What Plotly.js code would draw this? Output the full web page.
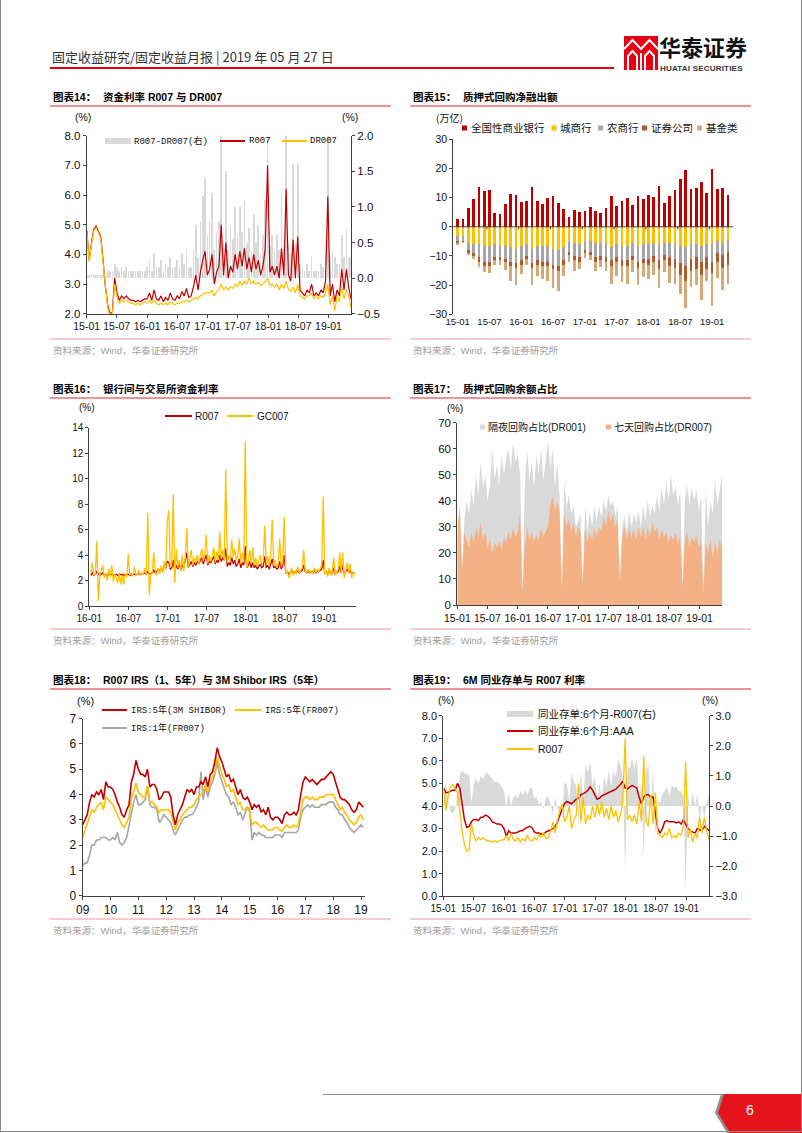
<!DOCTYPE html>
<html><head><meta charset="utf-8">
<script src="https://cdn.plot.ly/plotly-3.0.1.min.js"></script>
<style>
html,body{margin:0;padding:0;background:#fff;}
#page{position:relative;width:802px;height:1133px;overflow:hidden;background:#fff;}
#chart{position:absolute;left:0;top:0;width:802px;height:1133px;}
.ov{position:absolute;pointer-events:none;}
.logo1{position:absolute;left:659px;top:30px;line-height:normal;font-family:"Noto Sans CJK SC",sans-serif;font-weight:bold;font-size:22px;color:#111;white-space:nowrap;}
.logo2{position:absolute;left:660px;top:63.5px;line-height:normal;font-family:Arial,"Liberation Sans",sans-serif;font-weight:bold;font-size:8px;color:#333;white-space:nowrap;letter-spacing:0.2px;}
</style></head><body>
<div id="page">
<div id="chart"></div>
<svg class="ov" style="left:624px;top:36px" width="34" height="34" viewBox="0 0 34 34">
  <rect x="0" y="0" width="34" height="34" fill="#e60012"/>
  <polyline points="0,13 8.5,4 17,13 25.5,4 34,13" fill="none" stroke="#fff" stroke-width="2.2"/>
  <polyline points="4,34 4,20 8.5,15 13,20 13,34" fill="none" stroke="#fff" stroke-width="2"/>
  <polyline points="21,34 21,20 25.5,15 30,20 30,34" fill="none" stroke="#fff" stroke-width="2"/>
  <line x1="17" y1="17" x2="17" y2="34" stroke="#fff" stroke-width="2"/>
</svg>
<div class="logo1">华泰证券</div>
<div class="logo2">HUATAI SECURITIES</div>
<div class="ov" style="left:323px;top:1093.5px;width:400px;height:1.5px;background:#8a8a8a"></div>
<svg class="ov" style="left:708px;top:1092px" width="94" height="41">
  <polygon points="13,2 94,2 94,41 19,41 7,21" fill="#8f8f8f"/>
  <polygon points="16,2 94,2 94,41 22,41 10,21" fill="#e5141b"/>
  <text x="42" y="23" fill="#fff" font-family="Arial" font-size="14" text-anchor="middle">6</text>
</svg>
<div class="ov" style="left:0;top:0;width:800px;height:1131px;border-left:1px solid #8a8a8a;border-right:1px solid #8a8a8a;border-bottom:1px solid #8a8a8a"></div>
</div>
<script>
// ---------------- DATA ----------------
// Chart 14 / 19: R007 and DR007, biweekly samples from 2015-01-02
const r007 = [
4.8,3.8,4.4,4.85,4.95,4.8,4.6,3.8,2.9,2.3,2.0,2.05,3.2,2.7,2.45,2.6,2.5,2.6,2.5,2.45,2.45,2.4,2.45,2.4,2.45,2.5,
2.5,2.7,2.45,2.8,2.5,2.45,2.6,2.4,2.55,2.45,2.7,2.5,2.45,2.6,2.5,2.75,2.6,2.85,2.55,2.6,2.9,3.3,2.8,3.4,3.8,4.1,
3.3,3.5,4.0,3.0,3.4,3.6,5.0,3.3,4.4,3.2,3.6,3.4,4.0,3.5,4.1,3.6,4.2,3.5,3.9,3.4,4.0,3.5,3.8,3.3,3.6,4.2,
7.0,3.4,3.6,3.3,3.6,3.2,4.2,3.3,6.2,3.3,3.1,4.5,3.2,4.6,2.8,2.7,2.6,2.8,2.7,3.0,2.6,2.7,2.6,2.8,2.7,3.1,
5.95,2.6,3.0,2.4,2.8,2.6,3.5,2.8,3.5,2.9,2.5];
const dr007 = [
4.75,3.75,4.35,4.8,4.9,4.75,4.55,3.75,2.85,2.2,1.9,1.95,3.0,2.55,2.35,2.45,2.4,2.45,2.4,2.35,2.35,2.3,2.35,2.3,2.35,2.4,
2.35,2.45,2.35,2.45,2.35,2.3,2.35,2.3,2.35,2.3,2.4,2.35,2.3,2.35,2.35,2.4,2.4,2.45,2.4,2.45,2.5,2.55,2.5,2.6,2.65,2.7,
2.7,2.7,2.8,2.6,2.75,2.8,3.0,2.8,2.9,2.8,2.9,2.85,3.0,2.9,3.1,2.95,3.1,3.0,3.2,3.0,3.1,3.0,3.05,2.95,3.0,3.1,
3.2,2.95,3.0,2.9,3.0,2.8,3.0,2.85,3.1,2.8,2.75,2.9,2.7,3.0,2.6,2.55,2.5,2.6,2.6,2.7,2.5,2.6,2.5,2.6,2.55,2.7,
3.0,2.3,2.6,2.1,2.6,2.4,2.9,2.5,2.8,2.6,2.2];

// Chart 15: monthly net lending (trillion), 2015-01 .. 2019-04
const bankNational = [2.7,2.6,6.3,9.6,13.7,12.3,12.5,4.7,4.3,7.9,11.4,11.0,8.4,8.9,13.6,8.7,7.9,9.8,10.6,8.1,6.0,3.4,5.9,5.2,5.5,6.7,5.5,4.9,6.6,10.5,7.2,8.9,10.0,7.6,10.4,9.5,11.0,10.2,14.0,8.2,10.6,12.5,16.3,19.4,13.0,13.3,15.4,11.5,19.7,12.8,13.4,10.9];
const bankCity = [-3.0,-3.0,-5.5,-6.0,-6.0,-6.5,-6.5,-6.0,-6.5,-6.5,-7.0,-7.5,-6.5,-6.0,-7.5,-6.5,-6.5,-6.5,-7.5,-8.0,-7.0,-5.0,-5.5,-6.0,-5.0,-5.0,-5.5,-5.5,-5.5,-7.0,-6.0,-6.5,-6.5,-5.5,-6.5,-6.0,-6.0,-5.5,-6.0,-5.5,-5.5,-6.0,-6.5,-7.0,-6.0,-6.0,-6.5,-6.0,-6.0,-5.0,-5.5,-4.5];
const bankRural = [-2.0,-1.8,-2.5,-3.0,-4.5,-5.5,-5.5,-4.5,-4.0,-4.5,-5.0,-5.0,-5.0,-4.0,-5.0,-5.0,-5.5,-5.5,-5.5,-5.5,-4.5,-3.5,-4.5,-4.5,-3.0,-3.5,-5.0,-4.5,-5.0,-4.5,-4.5,-5.0,-5.0,-4.5,-5.5,-5.0,-5.0,-4.5,-5.5,-4.0,-5.0,-5.0,-6.0,-6.5,-5.0,-4.5,-5.5,-4.5,-6.0,-4.0,-4.0,-4.0];
const securities = [-0.5,-0.4,-1.0,-1.0,-1.5,-1.5,-1.5,-1.0,-1.0,-1.0,-1.5,-1.5,-1.5,-1.0,-1.5,-1.5,-1.5,-1.5,-1.5,-1.5,-1.5,-1.0,-1.5,-1.5,-1.0,-1.0,-1.5,-1.5,-1.5,-2.0,-1.5,-2.0,-2.0,-1.5,-2.0,-1.5,-2.0,-2.0,-3.0,-2.0,-3.0,-3.0,-4.0,-5.0,-4.0,-4.0,-4.5,-4.0,-4.0,-3.0,-4.5,-4.5];
const funds = [-0.8,-0.5,-0.8,-0.9,-1.9,-2.0,-2.4,-1.5,-1.7,-2.7,-5.2,-6.0,-3.1,-2.2,-5.9,-4.0,-4.5,-5.0,-6.5,-7.0,-4.0,-2.6,-3.8,-2.4,-1.7,-2.0,-3.3,-2.4,-3.3,-6.2,-4.8,-5.5,-6.2,-4.0,-6.1,-4.7,-4.8,-4.4,-6.5,-4.0,-5.8,-5.7,-6.6,-9.4,-5.5,-5.4,-8.7,-4.2,-11.0,-5.6,-7.8,-6.5];

// Chart 16: weekly samples from 2016-01-08
const gc007 = [
2.6,3.4,2.4,2.5,5.1,0.4,2.4,2.8,3.2,2.2, 2.6,2.0,2.9,2.3,3.2,1.9,2.5,2.2,1.8,2.6,
1.7,2.4,1.7,2.5,2.3,4.1,2.4,2.6,2.3,3.1, 2.5,2.4,2.8,2.4,2.6,2.5,3.0,2.4,7.3,0.9,
2.5,2.6,4.2,2.8,2.4,3.0,2.5,3.2,2.6,3.5, 2.8,6.7,7.5,3.0,3.3,8.8,1.8,4.5,3.0,3.6,
2.8,4.0,2.7,3.8,6.1,3.0,3.6,4.4,3.2,3.8, 3.4,4.0,3.3,3.9,4.5,3.5,4.2,5.6,3.3,4.0,
3.5,3.9,4.6,3.4,4.3,3.6,5.8,3.7,4.4,3.6, 10.7,3.4,4.0,3.5,5.2,3.8,4.5,3.6,3.9,5.3,
3.3,4.2,3.5,12.9,3.0,3.5,4.4,3.3,4.6,3.2, 3.8,3.1,3.6,4.0,3.2,3.5,6.3,3.3,3.9,3.1,
4.2,6.8,3.2,3.6,3.0,3.4,5.3,3.1,3.5,7.0, 2.5,2.8,2.2,2.6,3.0,2.4,2.7,2.5,3.1,2.6,
2.8,3.0,4.4,2.7,2.6,2.9,2.6,2.8,2.5,3.0, 2.6,2.9,2.7,3.0,3.2,8.6,2.5,2.8,2.3,3.0,
2.4,2.7,3.8,2.4,2.6,2.9,4.2,2.5,4.2,2.2, 2.8,3.4,2.6,3.3,2.2,2.7,2.5];
const r007Weekly = [
2.4,2.6,2.4,2.5,2.7,2.5,2.4,2.5,2.6,2.4, 2.5,2.4,2.5,2.45,2.5,2.4,2.45,2.5,2.4,2.5,
2.45,2.5,2.4,2.5,2.45,2.5,2.4,2.45,2.5,2.5, 2.45,2.5,2.55,2.45,2.5,2.55,2.6,2.5,2.7,2.5,
2.55,2.6,2.8,2.6,2.7,2.9,2.7,3.0,2.8,3.2, 3.0,3.5,3.4,2.9,3.0,3.6,2.8,3.2,2.9,3.3,
2.8,3.2,3.0,3.6,4.2,3.0,3.3,3.5,3.1,3.4, 3.2,3.5,3.3,3.6,3.8,3.3,3.6,4.0,3.2,3.5,
3.4,3.6,3.9,3.3,3.6,3.4,4.0,3.5,3.8,3.6, 4.5,3.1,3.4,3.2,3.8,3.3,3.6,3.1,3.3,3.7,
3.0,3.4,3.2,4.7,3.0,3.2,3.5,3.0,3.4,3.0, 3.2,2.9,3.1,3.3,3.0,3.1,3.9,3.0,3.2,2.9,
3.3,3.7,3.0,3.1,2.9,3.0,3.5,2.9,3.2,4.0, 2.6,2.7,2.5,2.6,2.8,2.6,2.7,2.6,2.8,2.6,
2.7,2.8,3.2,2.7,2.6,2.7,2.6,2.7,2.6,2.8, 2.6,2.7,2.7,2.8,2.9,3.6,2.6,2.7,2.5,2.8,
2.5,2.6,3.0,2.5,2.6,2.7,3.1,2.6,3.2,2.5, 2.7,2.9,2.6,2.8,2.5,2.6,2.6];

// Chart 17: share of repo balance (%), biweekly from 2015-01-02
const shareDR001 = [
30,36,15,33,40,35,44,38,50,42, 55,45,50,40,46,60,48,54,46,57,
50,56,60,52,62,55,58,50,5,45, 60,48,55,45,58,50,60,48,55,63,
52,60,45,55,42,5,48,38,42,35, 38,30,32,35,8,38,28,36,30,38,
32,38,34,40,36,42,38,40,34,38, 10,30,34,28,36,30,35,32,36,30,
38,32,40,34,38,35,42,36,45,38, 48,40,50,42,46,38,44,8,40,46,
38,45,40,44,36,42,5,44,30,40, 35,48,38,45,50];
const shareDR007 = [
30,38,12,28,25,22,28,24,30,26, 32,25,28,22,25,20,24,22,25,21,
26,24,28,25,30,26,28,35,5,22, 30,25,28,24,27,25,30,26,28,30,
38,42,36,40,35,5,35,30,33,28, 32,26,30,28,8,30,24,28,25,30,
26,30,28,34,30,36,32,35,30,33, 8,26,30,25,30,26,29,25,30,26,
30,25,30,26,32,28,30,25,29,26, 28,24,27,25,28,24,26,6,24,28,
22,26,24,27,22,25,4,24,20,25, 18,24,20,25,22];

// Chart 18: monthly IRS, 2009-01 .. 2019-02
const irs5Shibor = [
2.8,3.0,3.2,3.7,4.0,3.9,4.1,4.0,4.2,3.8,4.5,4.3,
4.3,4.2,4.0,3.7,3.5,3.2,3.1,3.4,3.6,4.5,4.8,5.35,
5.0,4.8,4.8,4.7,5.0,4.3,4.4,4.4,4.2,3.8,3.9,4.1,
4.1,4.1,3.9,3.2,2.8,3.2,3.4,3.6,3.9,4.2,4.1,4.2,
4.0,4.3,4.3,4.5,4.4,4.7,4.3,4.8,4.9,5.3,5.85,5.5,
5.3,5.0,4.7,4.8,4.5,4.6,4.3,4.0,4.2,3.9,3.8,3.9,
3.7,3.4,3.6,3.5,3.6,3.3,3.4,3.2,3.5,3.1,3.0,3.1,
3.1,3.0,2.85,3.2,3.3,3.2,3.2,3.3,3.2,3.4,4.0,4.5,
4.7,4.6,4.5,4.6,4.5,4.4,4.5,4.6,4.6,4.7,4.8,4.9,
4.8,4.5,4.2,3.9,3.8,3.8,3.7,3.6,3.4,3.3,3.4,3.7,
3.6,3.5];
const irs5FR007 = [
2.3,2.6,2.9,3.2,3.4,3.3,3.5,3.6,3.7,3.4,3.9,3.8,
3.7,3.6,3.4,3.2,3.0,2.8,2.7,2.9,3.1,3.8,4.1,4.45,
4.1,4.0,3.9,3.9,4.35,3.7,3.7,3.6,3.5,3.3,3.4,3.4,
3.4,3.4,3.3,2.9,2.6,2.9,3.0,3.2,3.3,3.4,3.5,3.5,
3.6,3.8,3.9,4.0,4.1,4.4,4.1,4.5,4.7,4.9,5.5,5.1,
4.8,4.6,4.3,4.4,4.1,4.2,3.9,3.6,3.7,3.4,3.4,3.5,
3.3,2.8,2.9,2.9,2.8,2.7,2.8,2.7,2.6,2.6,2.6,2.7,
2.7,2.6,2.55,2.7,2.8,2.7,2.7,2.8,2.7,2.8,3.4,3.8,
3.9,3.9,3.8,3.9,3.8,3.8,3.9,3.9,3.9,4.0,4.0,4.0,
4.0,3.8,3.6,3.4,3.5,3.3,3.2,3.0,2.9,2.8,2.9,3.1,
3.2,3.0];
const irs1FR007 = [
1.2,1.3,1.3,1.6,2.0,2.0,2.2,2.2,2.3,2.3,2.3,2.2,
2.2,2.3,2.2,2.5,2.1,2.0,2.1,2.3,2.8,3.3,3.7,4.0,
3.6,3.6,3.7,3.8,4.3,3.6,3.5,3.5,3.4,2.9,3.0,3.2,
3.1,3.0,2.9,2.6,2.4,2.6,2.8,3.0,3.1,3.1,3.2,3.2,
3.3,3.5,3.7,4.9,3.8,4.3,3.9,4.3,4.5,4.8,5.3,4.8,
4.5,4.2,4.0,3.9,3.6,3.7,3.5,3.2,3.3,3.0,3.3,3.5,
3.4,2.2,2.5,2.4,2.5,2.4,2.4,2.3,2.3,2.3,2.3,2.4,
2.4,2.4,2.3,2.5,2.5,2.5,2.5,2.5,2.5,2.6,3.1,3.4,
3.5,3.6,3.5,3.6,3.5,3.5,3.5,3.6,3.6,3.6,3.7,3.7,
3.7,3.5,3.4,3.2,3.2,3.0,2.9,2.7,2.6,2.5,2.6,2.7,
2.8,2.7];

// Chart 19: 6M NCD AAA, biweekly from 2015-01-02
const ncd6mAAA = [
4.8,4.6,4.6,4.65,4.7,4.7,5.0,4.8,4.1,3.4, 3.05,3.1,3.3,3.4,3.4,3.35,3.5,3.5,3.6,3.55,
3.45,3.3,3.25,3.2,3.2,3.15,3.0,2.65,2.9,2.8, 2.8,2.8,2.85,2.9,2.9,3.0,3.05,3.1,3.05,2.85,
2.8,2.8,2.75,2.75,2.85,2.9,2.95,3.0,3.1,3.3, 3.6,3.9,4.1,4.2,4.15,4.1,4.2,4.3,4.35,4.5,
4.55,4.6,4.7,4.85,4.7,4.5,4.3,4.35,4.45,4.5, 4.55,4.6,4.65,4.7,4.75,4.85,4.95,5.1,4.8,4.75,
4.85,4.9,4.85,4.8,4.4,4.1,4.4,4.5,4.5,4.4, 4.4,3.6,3.0,2.8,3.0,3.3,3.35,3.3,3.3,3.3,
3.25,3.3,3.2,3.4,3.2,3.0,2.9,2.85,2.8,3.0, 2.95,2.9,3.1,3.0,2.9];

// Tick labels
const halfYearTicks = ['2015-01-01','2015-07-01','2016-01-01','2016-07-01','2017-01-01','2017-07-01','2018-01-01','2018-07-01','2019-01-01'];
const halfYearLabels = ['15-01','15-07','16-01','16-07','17-01','17-07','18-01','18-07','19-01'];
const yearTicks = ['2009-01-01','2010-01-01','2011-01-01','2012-01-01','2013-01-01','2014-01-01','2015-01-01','2016-01-01','2017-01-01','2018-01-01','2019-01-01'];
const yearLabels = ['09','10','11','12','13','14','15','16','17','18','19'];

// ---------------- HELPERS ----------------
const W = 802, H = 1133;
const px = x => x / W;
const py = y => 1 - y / H;
function dateGrid(start, n, stepDays) {
  const p = start.split('-').map(Number);
  const t0 = Date.UTC(p[0], p[1] - 1, p[2]);
  const out = [];
  for (let i = 0; i < n; i++) out.push(new Date(t0 + i * stepDays * 86400000).toISOString().slice(0, 10));
  return out;
}
function monthGrid(y0, m0, n) {
  const out = [];
  for (let i = 0; i < n; i++) out.push(new Date(Date.UTC(y0, m0 - 1 + i, 1)).toISOString().slice(0, 10));
  return out;
}
const biweek = dateGrid('2015-01-02', r007.length, 14);
const weekly16 = dateGrid('2016-01-08', gc007.length, 7);
const months18 = monthGrid(2009, 1, irs5Shibor.length);
const spread14 = r007.map((v, i) => +(v - dr007[i]).toFixed(2));
const spread19 = ncd6mAAA.map((v, i) => +(v - r007[i]).toFixed(2));
const idx15 = bankNational.map((_, i) => i);
const labels15 = idx15.map(i => (15 + Math.floor(i / 12)) + '-' + String(i % 12 + 1).padStart(2, '0'));
const tv15 = idx15.filter(i => i % 6 === 0);
const tt15 = tv15.map(i => labels15[i]);

const SANS = 'Arial, "Liberation Sans", "Noto Sans CJK SC", sans-serif';
const MONO = '"Liberation Mono", "Noto Sans CJK SC", monospace';
const CJK = '"Noto Sans CJK SC", Arial, sans-serif';
const RED = '#c00000', YEL = '#ffc000', LGRAY = '#d9d9d9', MGRAY = '#a6a6a6';

const annotations = [];
const shapes = [];
function T(x, y, text, size, opt) {
  opt = opt || {};
  annotations.push({xref: 'paper', yref: 'paper', x: px(x), y: py(y), text: text, showarrow: false,
    xanchor: opt.anchor || 'left', yanchor: 'middle', borderpad: 0,
    font: {family: opt.family || SANS, size: size, color: opt.color || '#111'}});
}
function L(x0, y0, x1, y1, color, width) {
  shapes.push({type: 'line', xref: 'paper', yref: 'paper', x0: px(x0), y0: py(y0), x1: px(x1), y1: py(y1), line: {color: color, width: width}});
}
function R(x0, y0, x1, y1, color) {
  shapes.push({type: 'rect', xref: 'paper', yref: 'paper', x0: px(x0), y0: py(y0), x1: px(x1), y1: py(y1), fillcolor: color, line: {width: 0}});
}

// Header
T(51, 57, '固定收益研究/固定收益月报 | 2019 年 05 月 27 日', 13, {color: '#333', family: CJK});
L(50, 68, 614, 68, '#e60012', 2);

// Chart frames: titles, rules, sources
function frame(x, yTitle, num, title, yRule, ySrc) {
  T(x + 2, yTitle, '<b>图表' + num + '：</b>', 10.5, {color: '#000', family: SANS});
  T(x + 52, yTitle, '<b>' + title + '</b>', 10.5, {color: '#000', family: SANS});
  L(x, yTitle + 9, x + 341, yTitle + 9, '#e0262c', 1.2);
  L(x, yRule, x + 341, yRule, '#ef9a9a', 1);
  T(x + 2, ySrc, '资料来源：Wind，华泰证券研究所', 9.5, {color: '#a0a0a0', family: SANS});
}
frame(50, 97, '14', '资金利率 R007 与 DR007', 339, 350);
frame(410, 97, '15', '质押式回购净融出额', 339, 350);
frame(50, 389, '16', '银行间与交易所资金利率', 629, 640);
frame(410, 389, '17', '质押式回购余额占比', 629, 640);
frame(50, 680, '18', 'R007 IRS（1、5年）与 3M Shibor IRS（5年）', 919, 930);
frame(410, 680, '19', '6M 同业存单与 R007 利率', 919, 930);

// Chart 14 legend / units
T(83, 117, '(%)', 10.5, {anchor: 'center'});
T(350, 117, '(%)', 10.5, {anchor: 'center'});
R(105, 138, 131, 144, LGRAY); T(133, 141, 'R007-DR007(右)', 9, {family: MONO});
L(220, 141, 245, 141, RED, 2); T(248, 141, 'R007', 9, {family: MONO});
L(282, 141, 307, 141, YEL, 2); T(309, 141, 'DR007', 9, {family: MONO});

// Chart 15 legend / units
T(435, 117, '(万亿)', 10, {family: CJK});
const leg15 = [[462, RED, '全国性商业银行'], [551.5, YEL, '城商行'], [598, MGRAY, '农商行'], [642, '#b4582a', '证券公司'], [697, '#d4aa78', '基金类']];
leg15.forEach(function (d) { R(d[0], 125.5, d[0] + 5, 130.5, d[1]); T(d[0] + 7.5, 128, d[2], 10.5, {family: CJK}); });
[5.5, 11.5, 17.5, 23.5, 29.5, 35.5, 41.5, 47.5].forEach(function (v) {
  shapes.push({type: 'line', xref: 'x2', yref: 'y3', x0: v, x1: v, y0: 0, y1: -0.9, line: {color: '#404040', width: 1}});
});
shapes.push({type: 'line', xref: 'paper', yref: 'y3', x0: px(453.3), x1: px(733), y0: 0, y1: 0, line: {color: '#404040', width: 1}});

// Chart 16 legend / units
T(87, 408, '(%)', 10, {anchor: 'center'});
L(165, 416, 192, 416, RED, 2); T(194, 416, 'R007', 10);
L(227, 416, 253, 416, YEL, 2); T(256, 416, 'GC007', 10);

// Chart 17 legend / units
T(455, 408, '(%)', 10.5, {anchor: 'center'});
R(480, 424.5, 485, 429.5, LGRAY); T(487, 427, '隔夜回购占比(DR001)', 10);
R(606, 424.5, 611, 429.5, '#f4b183'); T(613, 427, '七天回购占比(DR007)', 10);

// Chart 18 legend / units
T(85, 701, '(%)', 11, {anchor: 'center'});
L(102, 710, 127, 710, RED, 2); T(130, 710, 'IRS:5年(3M SHIBOR)', 9, {family: MONO});
L(235, 710, 261, 710, YEL, 2); T(264, 710, 'IRS:5年(FR007)', 9, {family: MONO});
L(102, 728, 127, 728, MGRAY, 2); T(130, 728, 'IRS:1年(FR007)', 9, {family: MONO});

// Chart 19 legend / units
T(446, 700, '(%)', 10.5, {anchor: 'center'});
T(710, 700, '(%)', 10.5, {anchor: 'center'});
R(507, 711, 533, 717, LGRAY); T(537, 714, '同业存单:6个月-R007(右)', 10.5);
L(507, 731, 533, 731, RED, 2); T(537, 731, '同业存单:6个月:AAA', 10.5);
L(507, 749, 533, 749, YEL, 2); T(537, 749, 'R007', 10.5);

// ---------------- TRACES ----------------
const DAY = 86400000;
const traces = [
  // 14
  {x: biweek, y: spread14, xaxis: 'x', yaxis: 'y', type: 'bar', width: 10 * DAY, marker: {color: LGRAY, line: {width: 0}}, name: 'R007-DR007(右)'},
  {x: biweek, y: r007, xaxis: 'x', yaxis: 'y2', type: 'scatter', mode: 'lines', line: {color: RED, width: 1.2}, name: 'R007'},
  {x: biweek, y: dr007, xaxis: 'x', yaxis: 'y2', type: 'scatter', mode: 'lines', line: {color: YEL, width: 1.2}, name: 'DR007'},
  // 15
  {x: idx15, y: bankNational, xaxis: 'x2', yaxis: 'y3', type: 'bar', width: 0.5, marker: {color: RED}, name: '全国性商业银行'},
  {x: idx15, y: bankCity, xaxis: 'x2', yaxis: 'y3', type: 'bar', width: 0.5, marker: {color: YEL}, name: '城商行'},
  {x: idx15, y: bankRural, xaxis: 'x2', yaxis: 'y3', type: 'bar', width: 0.5, marker: {color: MGRAY}, name: '农商行'},
  {x: idx15, y: securities, xaxis: 'x2', yaxis: 'y3', type: 'bar', width: 0.5, marker: {color: '#b4582a'}, name: '证券公司'},
  {x: idx15, y: funds, xaxis: 'x2', yaxis: 'y3', type: 'bar', width: 0.5, marker: {color: '#d4aa78'}, name: '基金类'},
  // 16
  {x: weekly16, y: r007Weekly, xaxis: 'x3', yaxis: 'y4', type: 'scatter', mode: 'lines', line: {color: RED, width: 1.3}, name: 'R007'},
  {x: weekly16, y: gc007, xaxis: 'x3', yaxis: 'y4', type: 'scatter', mode: 'lines', line: {color: YEL, width: 1.3}, name: 'GC007'},
  // 17
  {x: biweek, y: shareDR001, xaxis: 'x4', yaxis: 'y5', type: 'scatter', mode: 'lines', fill: 'tozeroy', fillcolor: LGRAY, line: {width: 0, color: LGRAY}, name: '隔夜回购占比(DR001)'},
  {x: biweek, y: shareDR007, xaxis: 'x4', yaxis: 'y5', type: 'scatter', mode: 'lines', fill: 'tozeroy', fillcolor: '#f4b183', line: {width: 0, color: '#f4b183'}, name: '七天回购占比(DR007)'},
  // 18
  {x: months18, y: irs1FR007, xaxis: 'x5', yaxis: 'y6', type: 'scatter', mode: 'lines', line: {color: MGRAY, width: 1.6}, name: 'IRS:1年(FR007)'},
  {x: months18, y: irs5FR007, xaxis: 'x5', yaxis: 'y6', type: 'scatter', mode: 'lines', line: {color: YEL, width: 1.6}, name: 'IRS:5年(FR007)'},
  {x: months18, y: irs5Shibor, xaxis: 'x5', yaxis: 'y6', type: 'scatter', mode: 'lines', line: {color: RED, width: 1.6}, name: 'IRS:5年(3M SHIBOR)'},
  // 19
  {x: biweek, y: spread19, xaxis: 'x6', yaxis: 'y7', type: 'scatter', mode: 'lines', fill: 'tozeroy', fillcolor: LGRAY, line: {width: 0, color: LGRAY}, name: '同业存单:6个月-R007(右)'},
  {x: biweek, y: ncd6mAAA, xaxis: 'x6', yaxis: 'y8', type: 'scatter', mode: 'lines', line: {color: RED, width: 1.5}, name: '同业存单:6个月:AAA'},
  {x: biweek, y: r007, xaxis: 'x6', yaxis: 'y8', type: 'scatter', mode: 'lines', line: {color: YEL, width: 1.3}, name: 'R007'}
];

// ---------------- LAYOUT ----------------
const tf = s => ({family: 'Arial, "Liberation Sans", sans-serif', size: s, color: '#111'});
function ax(extra) {
  return Object.assign({showgrid: false, zeroline: false, showline: true, linecolor: '#404040', linewidth: 1,
    ticks: 'outside', ticklen: 3, tickwidth: 1, tickcolor: '#404040', fixedrange: true, layer: 'above traces', tickangle: 0}, extra);
}
const layout = {
  width: W, height: H, margin: {l: 0, r: 0, t: 0, b: 0}, showlegend: false,
  paper_bgcolor: '#ffffff', plot_bgcolor: 'rgba(0,0,0,0)', barmode: 'relative', bargap: 0,
  font: {family: SANS},
  xaxis: ax({type: 'date', domain: [px(86.7), px(351)], range: ['2015-01-01', '2019-05-17'], tickmode: 'array', tickvals: halfYearTicks, ticktext: halfYearLabels, tickfont: tf(10.5), anchor: 'y'}),
  yaxis: ax({domain: [py(313.7), py(135.7)], range: [-0.5, 2], tickmode: 'linear', tick0: -0.5, dtick: 0.5, tickformat: '.1f', side: 'right', anchor: 'x', tickfont: tf(11.5)}),
  yaxis2: ax({overlaying: 'y', side: 'left', anchor: 'x', range: [2, 8], tickmode: 'linear', tick0: 2, dtick: 1, tickformat: '.1f', tickfont: tf(11.5)}),
  xaxis2: ax({domain: [px(453.3), px(733)], range: [-0.83, 51.94], tickmode: 'array', tickvals: tv15, ticktext: tt15, ticks: '', showline: false, anchor: 'y3', tickfont: tf(9.5)}),
  yaxis3: ax({domain: [py(314.3), py(139.3)], range: [-30, 30], tickmode: 'linear', tick0: -30, dtick: 10, anchor: 'x2', tickfont: tf(10.5)}),
  xaxis3: ax({type: 'date', domain: [px(89.3), px(356)], range: ['2016-01-01', '2019-05-30'], tickmode: 'array', tickvals: halfYearTicks.slice(2), ticktext: halfYearLabels.slice(2), anchor: 'y4', tickfont: tf(10)}),
  yaxis4: ax({domain: [py(606), py(427.7)], range: [0, 14], tickmode: 'linear', tick0: 0, dtick: 2, anchor: 'x3', tickfont: tf(10)}),
  xaxis4: ax({type: 'date', domain: [px(457.3), px(722)], range: ['2015-01-01', '2019-05-17'], tickmode: 'array', tickvals: halfYearTicks, ticktext: halfYearLabels, anchor: 'y5', tickfont: tf(10.5)}),
  yaxis5: ax({domain: [py(605), py(422.7)], range: [0, 70], tickmode: 'linear', tick0: 0, dtick: 10, anchor: 'x4', tickfont: tf(11.5)}),
  xaxis5: ax({type: 'date', domain: [px(82.7), px(365)], range: ['2009-01-01', '2019-02-22'], tickmode: 'array', tickvals: yearTicks, ticktext: yearLabels, anchor: 'y6', tickfont: tf(12)}),
  yaxis6: ax({domain: [py(895.7), py(718.7)], range: [0, 7], tickmode: 'linear', tick0: 0, dtick: 1, anchor: 'x5', tickfont: tf(12)}),
  xaxis6: ax({type: 'date', domain: [px(443.3), px(709.3)], range: ['2015-01-01', '2019-05-19'], tickmode: 'array', tickvals: halfYearTicks, ticktext: halfYearLabels, anchor: 'y7', tickfont: tf(10)}),
  yaxis7: ax({domain: [py(896.3), py(715.7)], range: [-3, 3], tickmode: 'linear', tick0: -3, dtick: 1, tickformat: '.1f', side: 'right', anchor: 'x6', tickfont: tf(11)}),
  yaxis8: ax({overlaying: 'y7', side: 'left', anchor: 'x6', range: [0, 8], tickmode: 'linear', tick0: 0, dtick: 1, tickformat: '.1f', tickfont: tf(11)}),
  annotations: annotations,
  shapes: shapes
};

Plotly.newPlot('chart', traces, layout, {staticPlot: true, displayModeBar: false});
</script>
</body></html>
